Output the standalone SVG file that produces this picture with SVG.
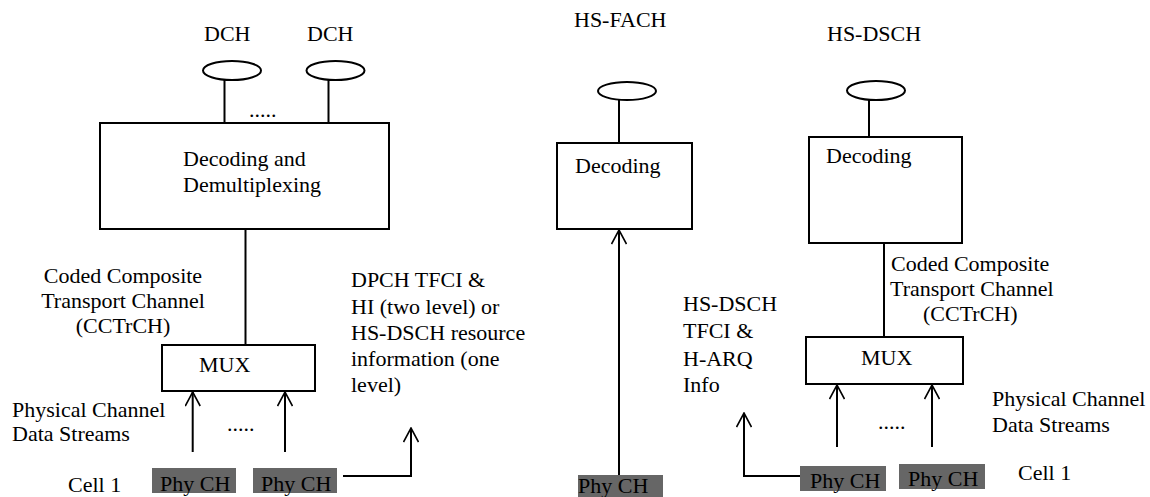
<svg xmlns="http://www.w3.org/2000/svg" width="1150" height="497" viewBox="0 0 1150 497">
<defs>
<style>
text { font-family: "Liberation Serif", "DejaVu Serif", serif; font-size: 22px; fill: #000; }
.box { fill: #fff; stroke: #000; stroke-width: 2; }
.ell { fill: #fff; stroke: #000; stroke-width: 2; }
.ln { fill: none; stroke: #000; stroke-width: 2; }
.phy { fill: #666666; stroke: none; }
</style>
<marker id="arr" viewBox="0 0 16 16" refX="15" refY="8" markerWidth="16" markerHeight="16" markerUnits="userSpaceOnUse" orient="auto">
<path d="M1,0.5 L15,8 L1,15.5" fill="none" stroke="#000" stroke-width="1.6"/>
</marker>
</defs>
<rect width="1150" height="497" fill="#fff"/>

<g id="connectors">
<line class="ln" x1="224.5" y1="80" x2="224.5" y2="123"/>
<line class="ln" x1="328.5" y1="80" x2="328.5" y2="123"/>
<line class="ln" x1="245.5" y1="229" x2="245.5" y2="350"/>
<line class="ln" x1="192.7" y1="452" x2="192.7" y2="392" marker-end="url(#arr)"/>
<line class="ln" x1="285" y1="452" x2="285" y2="392" marker-end="url(#arr)"/>
<polyline class="ln" points="343,476 411,476 411,428" marker-end="url(#arr)"/>
<line class="ln" x1="619" y1="100" x2="619" y2="143"/>
<line class="ln" x1="619" y1="475" x2="619" y2="230" marker-end="url(#arr)"/>
<line class="ln" x1="869" y1="100" x2="869" y2="137"/>
<line class="ln" x1="884" y1="243" x2="884" y2="337"/>
<line class="ln" x1="837" y1="447" x2="837" y2="385" marker-end="url(#arr)"/>
<line class="ln" x1="932" y1="447" x2="932" y2="385" marker-end="url(#arr)"/>
<polyline class="ln" points="807,476 744,476 744,413" marker-end="url(#arr)"/>
</g>

<g id="dch1">
<text x="204" y="41">DCH</text>
<ellipse class="ell" cx="232" cy="70.5" rx="29" ry="9.5"/>
</g>
<g id="dch2">
<text x="307" y="41">DCH</text>
<ellipse class="ell" cx="335.5" cy="70.5" rx="29" ry="9.5"/>
</g>
<text x="249" y="117">.....</text>

<g id="decdemux">
<rect class="box" x="100" y="123" width="289" height="106"/>
<text x="183" y="166">Decoding and</text>
<text x="183" y="192">Demultiplexing</text>
</g>

<g id="cctrch-left">
<text x="123" y="283" text-anchor="middle">Coded Composite</text>
<text x="123" y="308" text-anchor="middle">Transport Channel</text>
<text x="123" y="333" text-anchor="middle">(CCTrCH)</text>
</g>

<g id="mux-left">
<rect class="box" x="162" y="345" width="153" height="46"/>
<text x="199" y="372">MUX</text>
</g>

<g id="pcds-left">
<text x="12" y="417">Physical Channel</text>
<text x="12" y="441">Data Streams</text>
</g>
<text x="227" y="431">.....</text>
<text x="68" y="492">Cell 1</text>

<g id="phy1">
<rect class="phy" x="152" y="468" width="84" height="25"/>
<text x="160" y="491">Phy CH</text>
</g>
<g id="phy2">
<rect class="phy" x="253" y="468" width="84" height="25"/>
<text x="261" y="491">Phy CH</text>
</g>

<g id="dpch-label">
<text x="351" y="287">DPCH TFCI &amp;</text>
<text x="351" y="314">HI (two level) or</text>
<text x="351" y="340">HS-DSCH resource</text>
<text x="351" y="366">information (one</text>
<text x="351" y="392">level)</text>
</g>

<g id="hsfach">
<text x="574" y="27">HS-FACH</text>
<ellipse class="ell" cx="627" cy="91" rx="29" ry="9"/>
</g>
<g id="dec-fach">
<rect class="box" x="557" y="143" width="135" height="86"/>
<text x="575" y="173">Decoding</text>
</g>
<g id="phy-fach">
<rect class="phy" x="578" y="475" width="85" height="22"/>
<text x="578" y="493">Phy CH</text>
</g>

<g id="hsdsch-label">
<text x="683" y="311">HS-DSCH</text>
<text x="683" y="338">TFCI &amp;</text>
<text x="683" y="366">H-ARQ</text>
<text x="683" y="392">Info</text>
</g>

<g id="hsdsch">
<text x="827" y="41">HS-DSCH</text>
<ellipse class="ell" cx="876" cy="90.5" rx="29" ry="9.5"/>
</g>
<g id="dec-dsch">
<rect class="box" x="809" y="137" width="153" height="106"/>
<text x="826" y="163">Decoding</text>
</g>
<g id="cctrch-right">
<text x="891" y="271">Coded Composite</text>
<text x="890" y="296">Transport Channel</text>
<text x="923" y="321">(CCTrCH)</text>
</g>
<g id="mux-right">
<rect class="box" x="806" y="337" width="157" height="47"/>
<text x="861" y="365">MUX</text>
</g>
<text x="878" y="429">.....</text>
<g id="pcds-right">
<text x="992" y="406">Physical Channel</text>
<text x="992" y="432">Data Streams</text>
</g>
<g id="phy3">
<rect class="phy" x="800" y="466" width="86" height="25"/>
<text x="810" y="488">Phy CH</text>
</g>
<g id="phy4">
<rect class="phy" x="899" y="464" width="86" height="25"/>
<text x="908" y="486">Phy CH</text>
</g>
<text x="1018" y="480">Cell 1</text>
</svg>
